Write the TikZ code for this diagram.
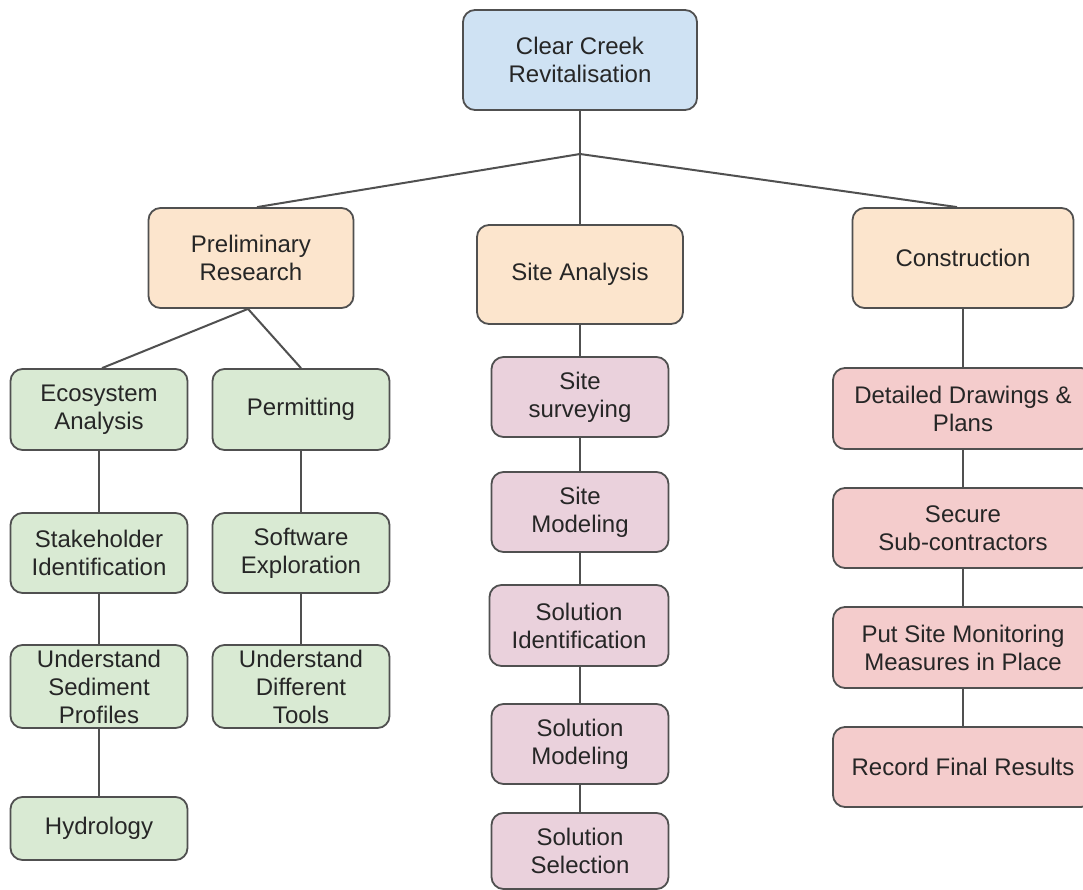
\documentclass[tikz,border=0pt]{standalone}
\usepackage{fontspec}
\setmainfont{Liberation Sans}
\definecolor{rootfill}{HTML}{CFE2F3}
\definecolor{phasefill}{HTML}{FCE5CD}
\definecolor{researchfill}{HTML}{D9EAD3}
\definecolor{sitefill}{HTML}{EAD1DC}
\definecolor{buildfill}{HTML}{F4CCCC}
\definecolor{edge}{HTML}{505050}
\definecolor{ink}{HTML}{262626}
\tikzset{
  card/.style={draw=edge, line width=1.8pt, rounded corners=12pt, align=center,
    inner sep=0pt, text=ink, font=\fontsize{24}{28}\selectfont},
  rootcard/.style={card, fill=rootfill},
  phasecard/.style={card, fill=phasefill},
  researchcard/.style={card, fill=researchfill},
  sitecard/.style={card, fill=sitefill},
  buildcard/.style={card, fill=buildfill},
  link/.style={draw=edge, line width=2pt},
}
\begin{document}
\begin{tikzpicture}[x=1pt, y=-1pt]
\useasboundingbox[fill=white] (0,0) rectangle (1083,890);
\clip (0,0) rectangle (1083,890);

% root and the three phases
\node[rootcard, minimum width=234pt, minimum height=100pt] (root) at (580,60) {Clear Creek\\Revitalisation};
\node[phasecard, minimum width=205pt, minimum height=100pt] (prelim) at (251,258) {Preliminary\\Research};
\node[phasecard, minimum width=206pt, minimum height=99pt] (site) at (580,274.5) {Site Analysis};
\node[phasecard, minimum width=221pt, minimum height=100pt] (constr) at (963,258) {Construction};
\coordinate (hub) at (580,154);

% preliminary research branch
\node[researchcard, minimum width=177pt, minimum height=81pt] (eco) at (99,409.5) {Ecosystem\\Analysis};
\node[researchcard, minimum width=177pt, minimum height=81pt] (perm) at (301,409.5) {Permitting};
\node[researchcard, minimum width=177pt, minimum height=80pt] (stake) at (99,553) {Stakeholder\\Identification};
\node[researchcard, minimum width=177pt, minimum height=80pt] (soft) at (301,553) {Software\\Exploration};
\node[researchcard, minimum width=177pt, minimum height=83pt] (sed) at (99,686.5) {Understand\\Sediment\\Profiles};
\node[researchcard, minimum width=177pt, minimum height=83pt] (tools) at (301,686.5) {Understand\\Different\\Tools};
\node[researchcard, minimum width=177pt, minimum height=63pt] (hydro) at (99,828.5) {Hydrology};

% site analysis branch
\node[sitecard, minimum width=177pt, minimum height=80pt] (survey) at (580,397) {Site\\surveying};
\node[sitecard, minimum width=177pt, minimum height=80pt] (smodel) at (580,512) {Site\\Modeling};
\node[sitecard, minimum width=179pt, minimum height=81pt] (solid) at (579,625.5) {Solution\\Identification};
\node[sitecard, minimum width=177pt, minimum height=80pt] (solmod) at (580,744) {Solution\\Modeling};
\node[sitecard, minimum width=177pt, minimum height=76pt] (solsel) at (580,851) {Solution\\Selection};

% construction branch
\node[buildcard, minimum width=260pt, minimum height=81pt] (draw) at (963,408.5) {Detailed Drawings \&\\Plans};
\node[buildcard, minimum width=260pt, minimum height=80pt] (subs) at (963,528) {Secure\\Sub-contractors};
\node[buildcard, minimum width=260pt, minimum height=81pt] (monitor) at (963,647.5) {Put Site Monitoring\\Measures in Place};
\node[buildcard, minimum width=260pt, minimum height=80pt] (record) at (963,767) {Record Final Results};

% connectors
\draw[link] (root.south) -- (hub);
\draw[link] (hub) -- (site.north);
\draw[link] (hub) -- ([xshift=6pt]prelim.north);
\draw[link] (hub) -- ([xshift=-6pt]constr.north);

\draw[link] ([xshift=-3pt]prelim.south) -- ([xshift=3pt]eco.north);
\draw[link] ([xshift=-3pt]prelim.south) -- (perm.north);
\draw[link] (eco) -- (stake);
\draw[link] (stake) -- (sed);
\draw[link] (sed) -- (hydro);
\draw[link] (perm) -- (soft);
\draw[link] (soft) -- (tools);

\draw[link] (site) -- (survey);
\draw[link] (survey) -- (smodel);
\draw[link] (smodel.south) -- (solid.north -| smodel.south);
\draw[link] (solid.south -| solmod.north) -- (solmod.north);
\draw[link] (solmod) -- (solsel);

\draw[link] (constr) -- (draw);
\draw[link] (draw) -- (subs);
\draw[link] (subs) -- (monitor);
\draw[link] (monitor) -- (record);
\end{tikzpicture}
\end{document}
